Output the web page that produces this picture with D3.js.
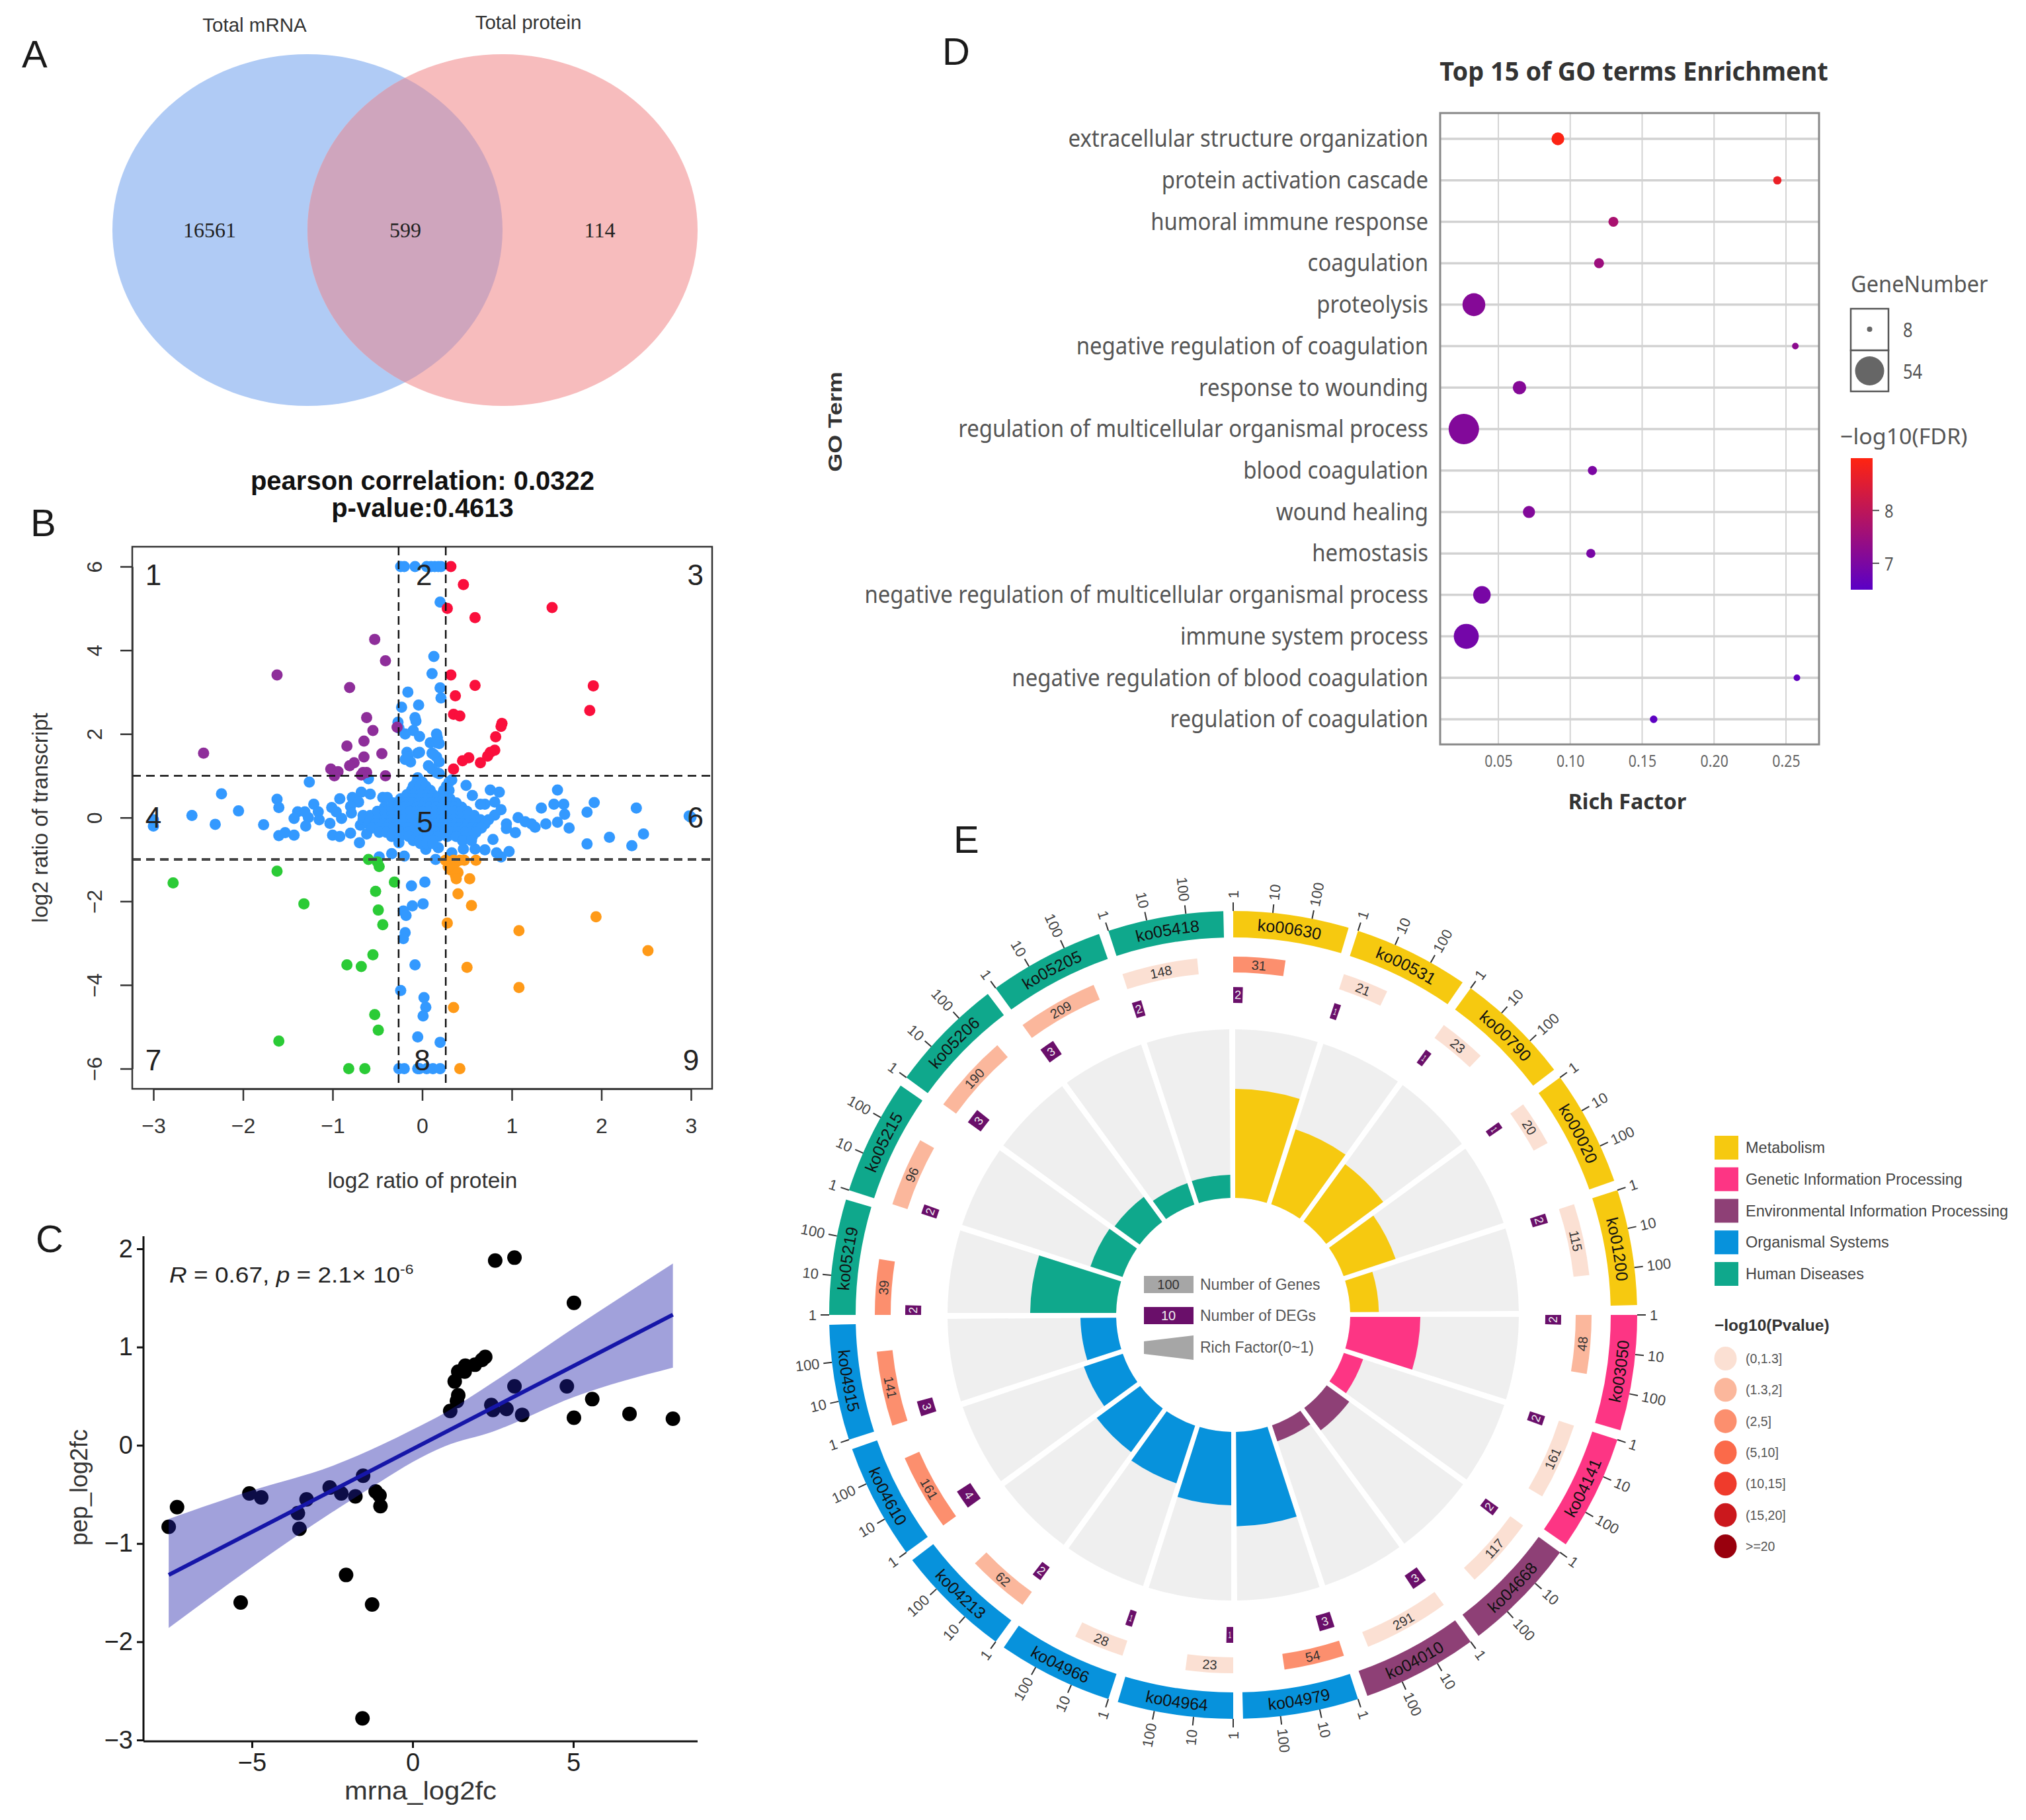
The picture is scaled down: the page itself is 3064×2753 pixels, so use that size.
<!DOCTYPE html>
<html><head><meta charset="utf-8">
<script src="https://cdnjs.cloudflare.com/ajax/libs/d3/7.8.5/d3.min.js"></script>
<style>html,body{margin:0;padding:0;background:#fff}svg{display:block}</style></head>
<body><svg id="c" width="3064" height="2753" xmlns="http://www.w3.org/2000/svg"></svg>
<script>
// ---------- Panel A
const vennSets = ["Total mRNA","Total protein"];
const vennCounts = [16561,599,114];
// ---------- Panel B
const bTicksX = [-3,-2,-1,0,1,2,3];
const bTicksY = [-6,-4,-2,0,2,4,6];
const bRed = [[.32,6],[.46,5.57],[.28,5],[1.45,5.02],[.59,4.78],[.32,3.41],[.59,3.16],[1.91,3.15],[.37,2.91],[1.87,2.56],[.35,2.47],[.42,2.43],[.89,2.25],[.88,2.18],[.82,1.93],[.81,1.61],[.76,1.56],[.73,1.47],[.65,1.31],[.52,1.43],[.45,1.36],[.35,1.16]];
const bPurple = [[-.53,4.26],[-.41,3.75],[-1.62,3.41],[-.81,3.11],[-.62,2.39],[-.55,2.08],[-.28,2.16],[-.65,1.83],[-.84,1.71],[-2.44,1.54],[-.45,1.53],[-.65,1.45],[-.76,1.31],[-.81,1.24],[-1.02,1.16],[-.94,1.1],[-.98,1],[-.66,1.08],[-.62,1.08],[-.68,1.02],[-.41,1]];
const bGreen = [[-2.78,-1.56],[-1.62,-1.28],[-1.32,-2.06],[-.6,-1],[-.5,-1.06],[-.48,-1.17],[-.31,-1.54],[-.52,-1.76],[-.49,-2.21],[-.44,-2.56],[-.55,-3.28],[-.84,-3.52],[-.68,-3.56],[-.53,-4.71],[-.49,-5.08],[-1.6,-5.34],[-.82,-6],[-.64,-6]];
const bOrange = [[.29,-1.17],[.37,-1.08],[.47,-1.02],[.26,-1.02],[.35,-1.02],[.32,-1.25],[.37,-1.37],[.4,-1.31],[.38,-1.46],[.53,-1.46],[.4,-1.82],[.55,-2.1],[.28,-2.52],[1.08,-2.7],[1.94,-2.37],[2.52,-3.18],[.5,-3.58],[1.08,-4.06],[.35,-4.54],[.42,-6],[.6,-1.02],[.42,-1.02]];
const bBlueOuter = [[-.24,6],[-.2,6],[-.08,6],[.05,6],[.1,6],[.14,6],[.18,6],[.21,6],[.2,5.15],[.13,3.85],[.11,3.44],[.2,3.1],[.21,2.86],[-.16,3],[-.04,2.69],[-.23,2.64],[-.08,2.39],[-.07,2.31],[-.27,2.28],[-.26,2.14],[-.1,2.08],[-.19,2],[-.03,1.94],[.16,2],[.17,1.91],[.09,1.79],[.16,1.79],[.19,1.77],[-.17,1.56],[-.05,1.54],[-.03,1.56],[-.16,1.45],[-.13,1.33],[-.19,1.39],[.11,1.54],[.16,1.45],[.19,1.33],[.13,1.51],[.07,1.24],[.11,1.16],[.16,1.08],[.19,1.05],[-.6,.93],[-1.26,.85],[-2.24,.57],[-2.57,.05],[-2.05,.16],[-2.31,-.16],[-3,-.05],[-3,-.2],[-1.77,-.17],[-1.62,.44],[-1.6,.24],[-1.6,-.43],[-1.53,-.36],[-1.43,-.42],[2.39,.23],[1.84,.13],[1.92,.36],[1.64,-.25],[1.84,-.63],[2.09,-.47],[2.34,-.67],[2.47,-.39],[3,.01],[2.98,.04],[-.12,-1.63],[.03,-1.54],[-.11,-2.11],[.01,-2.06],[-.21,-2.23],[-.18,-2.34],[-.19,-2.75],[-.21,-2.89],[-.08,-3.52],[-.24,-4.13],[.02,-4.3],[.04,-4.53],[.01,-4.74],[-.05,-5.24],[.2,-5.37],[-.26,-6],[-.2,-6],[-.05,-6],[-.03,-6],[.05,-6],[.12,-6],[.2,-6]];
const bBlueMid = [[-.92,.45],[-.68,.61],[-.58,.56],[-.78,.48],[-.71,.37],[-.8,.27],[-1.01,.24],[-1.21,.32],[-1.39,.14],[-1.31,.14],[-1.16,.14],[-1.27,0],[-1.15,-.05],[-1.43,-.02],[-1.3,-.2],[-1.03,-.14],[-.9,-.02],[-.96,.14],[-.79,.11],[-1,-.42],[-.92,-.45],[-.8,-.37],[-.7,-.6],[-.62,-.39],[-.69,-.18],[-.44,.48],[-.39,.48],[-.48,-.94],[-.34,-.86],[-.2,-.92],[-.26,-.6],[-.07,-.52],[.04,-.76],[.18,-.72],[.33,-.84],[.46,-.75],[.59,-.75],[.7,-.77],[.83,-.84],[.88,-.94],[.97,-.81],[.15,-1],[.79,-.52],[1.04,-.36],[.49,.77],[.56,.53],[.76,.66],[.86,.61],[.7,.32],[.81,.37],[.88,.19],[.81,.06],[.94,-.15],[.94,-.26],[1.07,0],[1.15,-.1],[1.26,-.23],[1.22,-.15],[1.38,-.15],[1.33,.23],[1.47,.32],[1.51,.66],[1.58,.32],[1.51,-.11],[1.59,.08],[.74,-.05],[.65,.32],[.33,.9],[-.05,.95]];
const bBlueCore = [
 [.85,[-.06,0,.3]],
 [.75,[-.1,-.03,.04,.27]],
 [.65,[-.12,-.05,.03,.09,.24,.3]],
 [.55,[-.17,-.1,-.02,.06,.12,.22,.28]],
 [.45,[-.24,-.17,-.1,-.03,.04,.1,.17,.24,.31]],
 [.35,[-.32,-.25,-.18,-.11,-.04,.03,.1,.17,.24,.31,.38]],
 [.25,[-.42,-.34,-.27,-.2,-.13,-.06,.01,.08,.15,.22,.29,.36,.44]],
 [.15,[-.5,-.42,-.34,-.27,-.2,-.13,-.06,.01,.08,.15,.22,.29,.36,.43,.5]],
 [.05,[-.66,-.58,-.5,-.42,-.34,-.27,-.2,-.13,-.06,.01,.08,.15,.22,.29,.36,.43,.5,.58]],
 [-.05,[-.66,-.58,-.5,-.42,-.34,-.27,-.2,-.13,-.06,.01,.08,.15,.22,.29,.36,.43,.5,.58,.65]],
 [-.15,[-.6,-.52,-.44,-.36,-.28,-.2,-.12,-.05,.02,.09,.16,.23,.3,.37,.44,.51,.58,.65,.7]],
 [-.25,[-.56,-.48,-.4,-.32,-.24,-.16,-.08,-.01,.06,.13,.2,.27,.34,.41,.48,.55,.62,.66]],
 [-.35,[-.48,-.4,-.32,-.24,-.16,-.08,0,.08,.16,.24,.32,.4,.48,.55,.6]],
 [-.45,[-.34,-.25,-.15,-.05,.03,.1,.18,.28,.38,.48,.56]],
 [-.55,[-.1,-.03,.05,.12,.45,.55]],
 [-.62,[-.02,.05,.12]]
];
const bQuadrants = [["1",-3,5.8],["2",.02,5.8],["3",3.05,5.8],["4",-3,0],["5",.03,-.1],["6",3.05,0],["7",-3,-5.8],["8",0,-5.8],["9",3,-5.8]];
// ---------- Panel C
const cPoints = [[-7.59,-.83],[-7.33,-.63],[-5.08,-.49],[-4.71,-.53],[-5.35,-1.6],[-3.3,-.55],[-3.57,-.69],[-3.52,-.85],[-2.58,-.43],[-2.22,-.49],[-1.78,-.52],[-1.54,-.31],[-1.15,-.47],[-1.03,-.51],[-1,-.62],[-2.07,-1.32],[-1.26,-1.62],[-1.56,-2.78],[1.17,.35],[1.38,.45],[1.42,.51],[1.31,.65],[1.42,.75],[1.62,.75],[1.64,.81],[1.94,.82],[2.16,.87],[2.26,.9],[2.45,.41],[2.5,.36],[2.92,.37],[3.17,.6],[3.41,.31],[2.57,1.88],[3.17,1.91],[4.8,.6],[5.02,1.45],[5.02,.28],[5.59,.47],[6.75,.32],[8.1,.27]];
const cBandX = [-7.59,-5,-2.5,-1,0,1,2.5,5,8.1];
const cBandHi = [-.75,-.46,-.21,0,.16,.33,.64,1.19,1.85];
const cBandLo = [-1.86,-1.24,-.68,-.37,-.17,-.01,.14,.49,.79];
const cFitX = [-7.59,8.1];
const cFitY = [-1.32,1.33];
// ---------- Panel D
const goTerms = ["extracellular structure organization","protein activation cascade","humoral immune response","coagulation","proteolysis","negative regulation of coagulation","response to wounding","regulation of multicellular organismal process","blood coagulation","wound healing","hemostasis","negative regulation of multicellular organismal process","immune system process","negative regulation of blood coagulation","regulation of coagulation"];
const goRich = [.0914,.244,.13,.12,.033,.2565,.0647,.026,.1154,.0713,.1143,.0386,.0277,.2576,.158];
const goGenes = [16,10,12,12,35,8,17,54,11,15,11,24,40,8,9];
const goFdr = [8.95,8.7,7.7,7.5,7.15,7.25,7.15,7.1,7,7.1,6.95,6.95,6.9,6.6,6.55];
const goTicks = [.05,.10,.15,.20,.25];
// ---------- Panel E
const koIds = ["ko00630","ko00531","ko00790","ko00020","ko01200","ko03050","ko04141","ko04668","ko04010","ko04979","ko04964","ko04966","ko04213","ko04610","ko04915","ko05219","ko05215","ko05206","ko05205","ko05418"];
const koClass = [0,0,0,0,0,1,1,2,2,3,3,3,3,3,3,4,4,4,4,4];
const koGenes = [31,21,23,20,115,48,161,117,291,54,23,28,62,161,141,39,96,190,209,148];
const koDegs = [2,1,1,1,2,2,2,2,3,3,1,1,2,4,3,2,2,3,3,2];
const koBin = [2,0,0,0,0,1,0,0,0,2,0,0,1,2,2,2,1,1,1,0];
const koRich = [.647,.467,.42,.325,.17,.416,.12,.165,.1,.56,.435,.36,.32,.243,.212,.51,.2,.184,.133,.137];
const classNames = ["Metabolism","Genetic Information Processing","Environmental Information Processing","Organismal Systems","Human Diseases"];
const classColors = ["#f6c910","#fd3584","#8e4076","#0792dc","#0fa88c"];
const binNames = ["(0,1.3]","(1.3,2]","(2,5]","(5,10]","(10,15]","(15,20]",">=20"];
const binColors = ["#fbe0d3","#fbb79c","#fc8f6e","#fb6a4a","#ef3b2c","#cb181d","#99000d"];
const koTicks = [1,10,100];

const svg = d3.select("#c");
const SANS = "'Liberation Sans',Arial,sans-serif", NOTO = "'Noto Sans',sans-serif";
function txt(p, s, x, y, o={}) {
  const t = p.append("text").text(s)
    .attr("transform", `translate(${x},${y}) rotate(${o.rot||0}) scale(${o.sx||1},1)`)
    .attr("font-family", o.family||SANS).attr("font-size", o.size||30)
    .attr("fill", o.fill||"#222").attr("text-anchor", o.anchor||"start");
  if (o.weight) t.attr("font-weight", o.weight);
  if (o.mid) t.attr("dominant-baseline","central");
  return t;
}
[["A",33,102],["B",46,811],["C",54,1894],["D",1425,98],["E",1442,1290]].forEach(d=>txt(svg,d[0],d[1],d[2],{size:58,fill:"#1a1a1a"}));

// ---- A
{
  const g = svg.append("g");
  const xV = d3.scaleLinear().domain([0,1]).range([465,760]);
  const rx=295, ry=266, cy=348;
  g.append("defs").append("clipPath").attr("id","vl").append("ellipse").attr("cx",xV(0)).attr("cy",cy).attr("rx",rx).attr("ry",ry);
  g.append("ellipse").attr("cx",xV(0)).attr("cy",cy).attr("rx",rx).attr("ry",ry).attr("fill","#b0cbf5");
  g.append("ellipse").attr("cx",xV(1)).attr("cy",cy).attr("rx",rx).attr("ry",ry).attr("fill","#f7bcbd");
  g.append("ellipse").attr("cx",xV(1)).attr("cy",cy).attr("rx",rx).attr("ry",ry).attr("fill","#cfa5bd").attr("clip-path","url(#vl)");
  txt(g,vennSets[0],385,48,{size:29.5,anchor:"middle",fill:"#333"});
  txt(g,vennSets[1],799,44,{size:29.5,anchor:"middle",fill:"#333"});
  [[317],[613],[907]].forEach((d,i)=>txt(g,String(vennCounts[i]),d[0],359,{size:32,anchor:"middle",family:"'Liberation Serif',serif",fill:"#222"}));
}
// ---- B
{
  const g = svg.append("g");
  const x = d3.scaleLinear().domain([-3,3]).range([232,1045]);
  const y = d3.scaleLinear().domain([-6,6]).range([1616.5,857]);
  const L=200,R=1077,T=827,B=1647;
  const dots=(arr,c)=>g.append("g").selectAll("circle").data(arr).join("circle").attr("cx",d=>x(d[0])).attr("cy",d=>y(d[1])).attr("r",8.5).attr("fill",c);
  const core = bBlueCore.flatMap(r=>r[1].map(v=>[v,r[0]]));
  dots(bBlueOuter.concat(bBlueMid,core),"#3399ff");
  dots(bRed,"#fa0f3c"); dots(bPurple,"#8e2e9a"); dots(bGreen,"#2bcb36"); dots(bOrange,"#ff9a18");
  g.append("rect").attr("x",L).attr("y",T).attr("width",R-L).attr("height",B-T).attr("fill","none").attr("stroke","#333").attr("stroke-width",2.5);
  [-.263,.263].forEach(v=>g.append("line").attr("x1",x(v)).attr("x2",x(v)).attr("y1",T).attr("y2",B).attr("stroke","#111").attr("stroke-width",2.5).attr("stroke-dasharray","13,8"));
  g.append("line").attr("x1",L).attr("x2",R).attr("y1",y(1)).attr("y2",y(1)).attr("stroke","#111").attr("stroke-width",2.5).attr("stroke-dasharray","13,8");
  g.append("line").attr("x1",L).attr("x2",R).attr("y1",y(-1)).attr("y2",y(-1)).attr("stroke","#444").attr("stroke-width",4).attr("stroke-dasharray","13,8");
  const ax=g.append("g").attr("transform",`translate(0,${B})`).call(d3.axisBottom(x).tickValues(bTicksX).tickFormat(d3.format("d")).tickSizeInner(18).tickSizeOuter(0).tickPadding(26));
  const ay=g.append("g").attr("transform",`translate(${L},0)`).call(d3.axisLeft(y).tickValues(bTicksY).tickFormat(d3.format("d")).tickSizeInner(18).tickSizeOuter(0));
  [ax,ay].forEach(a=>{a.attr("font-family",SANS).attr("font-size",32);a.selectAll("text").attr("fill","#333");a.selectAll("line,path").attr("stroke","#333").attr("stroke-width",2.5);});
  ay.selectAll("text").attr("x",0).attr("y",0).attr("dy",0).attr("text-anchor","middle").attr("transform","translate(-46,0) rotate(-90)");
  bQuadrants.forEach(q=>txt(g,q[0],x(q[1]),y(q[2]),{size:44,anchor:"middle",mid:1,fill:"#222"}));
  txt(g,"pearson correlation: 0.0322",639,741,{size:40,weight:"bold",anchor:"middle",fill:"#111"});
  txt(g,"p-value:0.4613",639,782,{size:40,weight:"bold",anchor:"middle",fill:"#111"});
  txt(g,"log2 ratio of protein",639,1797,{size:33.5,anchor:"middle",fill:"#333"});
  txt(g,"log2 ratio of transcript",72,1237,{size:33,anchor:"middle",rot:-90,fill:"#333"});
}
// ---- C
{
  const g = svg.append("g");
  const x = d3.scaleLinear().domain([-5,5]).range([381,867]);
  const y = d3.scaleLinear().domain([-3,2]).range([2632,1889]);
  g.append("g").selectAll("circle").data(cPoints).join("circle").attr("cx",d=>x(d[0])).attr("cy",d=>y(d[1])).attr("r",11).attr("fill","#000");
  const area = d3.area().curve(d3.curveMonotoneX).x((d,i)=>x(cBandX[i])).y0((d,i)=>y(cBandLo[i])).y1((d,i)=>y(cBandHi[i]));
  g.append("path").attr("d",area(cBandX)).attr("fill","#2020aa").attr("opacity",.42);
  g.append("path").attr("d",d3.line().x((d,i)=>x(cFitX[i])).y((d,i)=>y(cFitY[i]))(cFitX)).attr("stroke","#1616a8").attr("stroke-width",6).attr("fill","none");
  const ax=g.append("g").attr("transform","translate(0,2634)").call(d3.axisBottom(x).tickValues([-5,0,5]).tickFormat(d3.format("d")).tickSize(10).tickPadding(8));
  const ay=g.append("g").attr("transform","translate(217,0)").call(d3.axisLeft(y).tickValues([-3,-2,-1,0,1,2]).tickFormat(d3.format("d")).tickSize(10).tickPadding(6));
  ax.select(".domain").attr("d","M217,0H1055");
  ay.select(".domain").attr("d","M0,1870V2634");
  [ax,ay].forEach(a=>{a.attr("font-family",SANS).attr("font-size",38);a.selectAll("text").attr("fill","#222");a.selectAll("line,path").attr("stroke","#111").attr("stroke-width",3);});
  txt(g,"mrna_log2fc",636,2722,{size:38,sx:1.1,anchor:"middle",fill:"#333"});
  txt(g,"pep_log2fc",132,2250,{size:36,anchor:"middle",rot:-90,fill:"#333"});
  const t = txt(g,"",256,1940,{size:34,sx:1.09,fill:"#222"});
  t.append("tspan").attr("font-style","italic").text("R");
  t.append("tspan").text(" = 0.67, ");
  t.append("tspan").attr("font-style","italic").text("p");
  t.append("tspan").text(" = 2.1× 10");
  t.append("tspan").attr("font-size",21).attr("dy",-13).text("-6");
}
// ---- D
{
  const g = svg.append("g");
  const L=2178,R=2751,T=171,B=1126;
  const x = d3.scaleLinear().domain([.05,.25]).range([2266,2701]);
  const y = d3.scalePoint().domain(goTerms).range([210,1088]);
  const r = d3.scaleSqrt().domain([8,54]).range([5,23]);
  const col = d3.scaleLinear().domain([6.5,9]).range(["#5a00c6","#ff2410"]);
  g.selectAll("line.v").data(goTicks).join("line").attr("class","v").attr("x1",d=>x(d)).attr("x2",d=>x(d)).attr("y1",T).attr("y2",B).attr("stroke","#d4d4d4").attr("stroke-width",2);
  g.selectAll("line.h").data(goTerms).join("line").attr("class","h").attr("x1",L).attr("x2",R).attr("y1",d=>y(d)).attr("y2",d=>y(d)).attr("stroke","#d2d2d2").attr("stroke-width",3.5);
  g.append("rect").attr("x",L).attr("y",T).attr("width",R-L).attr("height",B-T).attr("fill","none").attr("stroke","#888").attr("stroke-width",3);
  g.selectAll("circle").data(goTerms).join("circle").attr("cx",(d,i)=>x(goRich[i])).attr("cy",d=>y(d)).attr("r",(d,i)=>r(goGenes[i])).attr("fill",(d,i)=>col(goFdr[i]));
  goTerms.forEach(t=>txt(g,t,2160,y(t)-2,{size:37,sx:.89,anchor:"end",mid:1,family:NOTO,fill:"#555"}));
  const ax=g.append("g").attr("transform",`translate(0,${B})`).call(d3.axisBottom(x).tickValues(goTicks).tickFormat(d3.format(".2f")).tickSize(0).tickPadding(16));
  ax.select(".domain").remove();
  ax.attr("font-family",NOTO).attr("font-size",26);
  ax.selectAll("text").attr("fill","#666").attr("transform","scale(.82,1)");
  txt(g,"Top 15 of GO terms Enrichment",2471,122,{size:40,sx:.95,weight:"bold",anchor:"middle",family:NOTO,fill:"#333"});
  txt(g,"Rich Factor",2461,1224,{size:33,sx:.975,weight:"bold",anchor:"middle",family:NOTO,fill:"#333"});
  txt(g,"GO Term",1273,638,{size:30,sx:1.2,weight:"bold",anchor:"middle",rot:-90,fill:"#333"});
  txt(g,"GeneNumber",2799,442,{size:35,sx:.93,family:NOTO,fill:"#555"});
  [[467,8],[530,54]].forEach(d=>{
    g.append("rect").attr("x",2799).attr("y",d[0]).attr("width",57).attr("height",d[0]===467?63:62).attr("fill","#fff").attr("stroke","#555").attr("stroke-width",2.5);
    g.append("circle").attr("cx",2827.5).attr("cy",d[0]+31).attr("r",d[1]===8?4:22).attr("fill","#666");
    txt(g,String(d[1]),2878,d[0]+31,{size:30,sx:.85,mid:1,family:NOTO,fill:"#555"});
  });
  txt(g,"−log10(FDR)",2783,672,{size:33,sx:1.03,family:NOTO,fill:"#555"});
  const yc = d3.scaleLinear().domain([6.5,8.99]).range([892,693]);
  const grad = g.append("defs").append("linearGradient").attr("id","fdr").attr("x1",0).attr("x2",0).attr("y1",1).attr("y2",0);
  grad.append("stop").attr("offset",0).attr("stop-color",col(6.5));
  grad.append("stop").attr("offset",1).attr("stop-color",col(9));
  g.append("rect").attr("x",2799).attr("y",693).attr("width",33).attr("height",199).attr("fill","url(#fdr)");
  [7,8].forEach(v=>{
    g.append("line").attr("x1",2832).attr("x2",2842).attr("y1",yc(v)).attr("y2",yc(v)).attr("stroke","#555").attr("stroke-width",2);
    txt(g,String(v),2850,yc(v),{size:28,sx:.85,mid:1,family:NOTO,fill:"#555"});
  });
}
// ---- E
{
  const g = svg.append("g").attr("transform","translate(1865,1989)");
  const STEP=18, END=16.6;
  const rad=d=>d*Math.PI/180;
  const gene = d3.scaleLog().domain([1,1000]).range([0,16.9]);
  const rr = d3.scaleLinear().domain([0,1]).range([177,432]);
  const arc = d3.arc();
  const aPath=(r0,r1,a0,a1)=>arc({innerRadius:r0,outerRadius:r1,startAngle:rad(a0),endAngle:rad(a1)});
  koIds.forEach((k,i)=>{
    const a0=i*STEP, a1=a0+END, c=classColors[koClass[i]];
    g.append("path").attr("d",aPath(571,611,a0,a1)).attr("fill",c);
    const lower = (a0+a1)/2>90 && (a0+a1)/2<270;
    const rl = lower?600:582;
    const p=d3.path();
    const s=rad(a0-90), e=rad(a1-90);
    if(lower){p.moveTo(rl*Math.cos(e),rl*Math.sin(e));p.arc(0,0,rl,e,s,true);}
    else{p.moveTo(rl*Math.cos(s),rl*Math.sin(s));p.arc(0,0,rl,s,e,false);}
    g.append("path").attr("id","kp"+i).attr("d",p.toString()).attr("fill","none");
    g.append("text").attr("font-family",SANS).attr("font-size",25).attr("fill","#111").attr("text-anchor","middle")
      .append("textPath").attr("href","#kp"+i).attr("startOffset","50%").text(k);
    koTicks.forEach(t=>{
      const a=a0+gene(t), ang=rad(a-90), cs=Math.cos(ang), sn=Math.sin(ang);
      g.append("line").attr("x1",611*cs).attr("y1",611*sn).attr("x2",624*cs).attr("y2",624*sn).attr("stroke","#333").attr("stroke-width",2);
      const flip=a>=180;
      g.append("text").text(t).attr("font-family",SANS).attr("font-size",22).attr("fill","#444").attr("dominant-baseline","central")
        .attr("text-anchor",flip?"end":"start")
        .attr("transform",`rotate(${a-90}) translate(630,0)${flip?" rotate(180)":""}`);
    });
    const gw=Math.max(gene(koGenes[i]),.8);
    g.append("path").attr("d",aPath(518,542,a0,a0+gw)).attr("fill",binColors[koBin[i]]);
    const label=(v,a,r,size,fill,maxw)=>{
      const flip=a>90&&a<270;
      g.append("text").text(v).attr("font-family",SANS).attr("font-size",size).attr("fill",fill).attr("text-anchor","middle").attr("dominant-baseline","central")
       .attr("transform",`rotate(${a}) translate(0,${-r})${flip?" rotate(180)":""} scale(${maxw},1)`);
    };
    label(koGenes[i],a0+gw/2,530,20,"#333",1);
    const dw=Math.max(gene(koDegs[i]),1.2);
    g.append("path").attr("d",aPath(472,496,a0,a0+dw)).attr("fill","#6a0f6a");
    label(koDegs[i],a0+dw/2,484,koDegs[i]===1?14:18,"#eee",koDegs[i]===1?.6:1);
    const ring=d3.arc().padRadius(400).padAngle(6/400);
    g.append("path").attr("d",ring({innerRadius:177,outerRadius:432,startAngle:rad(a0),endAngle:rad(a0+17.6)})).attr("fill","#efefef");
    g.append("path").attr("d",ring({innerRadius:177,outerRadius:rr(koRich[i]),startAngle:rad(a0),endAngle:rad(a0+17.6)})).attr("fill",c);
  });
  const key=svg.append("g");
  key.append("rect").attr("x",1730).attr("y",1930).attr("width",75).attr("height",26).attr("fill","#a6a6a6");
  key.append("rect").attr("x",1730).attr("y",1977).attr("width",75).attr("height",26).attr("fill","#6a0f6a");
  key.append("polygon").attr("points",[[1730,2029],[1805,2020],[1805,2057],[1730,2048]].join(" ")).attr("fill","#a6a6a6");
  txt(key,"100",1767,1943,{size:20,anchor:"middle",mid:1,fill:"#333"});
  txt(key,"10",1767,1990,{size:20,anchor:"middle",mid:1,fill:"#eee"});
  [["Number of Genes",1943],["Number of DEGs",1990],["Rich Factor(0~1)",2038]].forEach(d=>txt(key,d[0],1815,d[1],{size:23,mid:1,fill:"#555"}));
  const leg=svg.append("g");
  const yCl=d3.scalePoint().domain(classNames).range([1736,1927]);
  classNames.forEach((n,i)=>{
    leg.append("rect").attr("x",2593).attr("y",yCl(n)-18).attr("width",36).attr("height",36).attr("fill",classColors[i]);
    txt(leg,n,2640,yCl(n),{size:23.5,mid:1,fill:"#444"});
  });
  txt(leg,"−log10(Pvalue)",2593,2004,{size:24.5,weight:"bold",mid:1,fill:"#333"});
  const yBin=d3.scalePoint().domain(binNames).range([2055,2339]);
  binNames.forEach((n,i)=>{
    leg.append("ellipse").attr("cx",2609.5).attr("cy",yBin(n)).attr("rx",17).attr("ry",18).attr("fill",binColors[i]);
    txt(leg,n,2640,yBin(n),{size:19.5,mid:1,fill:"#555"});
  });
}
</script></body></html>
